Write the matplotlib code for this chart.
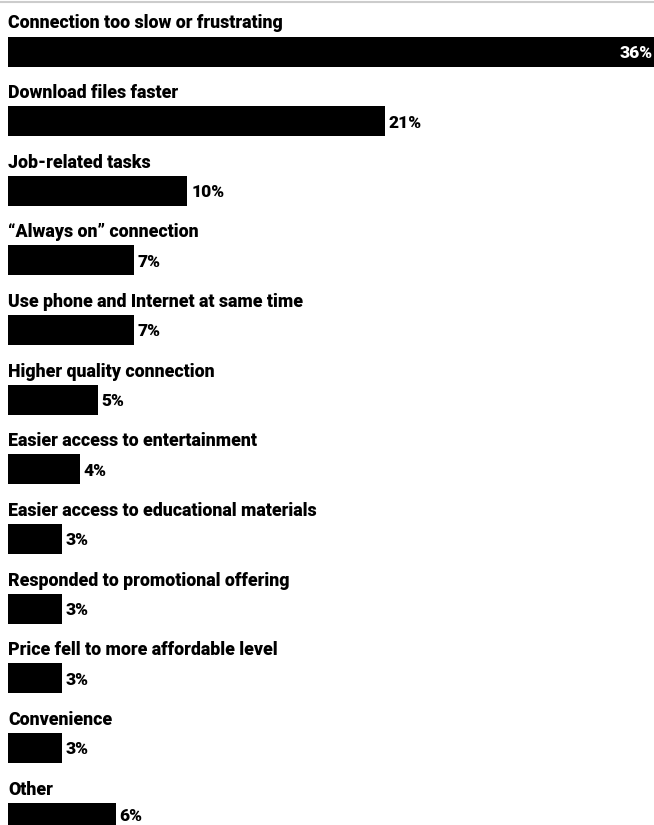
import matplotlib.pyplot as plt

categories = [
    'Connection too slow or frustrating',
    'Download files faster',
    'Job-related tasks',
    '\u201cAlways on\u201d connection',
    'Use phone and Internet at same time',
    'Higher quality connection',
    'Easier access to entertainment',
    'Easier access to educational materials',
    'Responded to promotional offering',
    'Price fell to more affordable level',
    'Convenience',
    'Other',
]
values = [36, 21, 10, 7, 7, 5, 4, 3, 3, 3, 3, 6]

plt.rcParams['font.family'] = ['Roboto', 'DejaVu Sans']

fig = plt.figure(figsize=(6.54, 8.25), dpi=100)
ax = fig.add_axes([0, 0, 1, 1])

pitch = 69.65  # px between bars
bar_h = 30 / pitch
ys = list(range(len(values)))

ax.barh(ys, values, height=bar_h, color='black', left=0)

for i, (cat, v) in enumerate(zip(categories, values)):
    ax.text(0, i - bar_h / 2 - 8 / pitch, cat, ha='left', va='baseline',
            fontsize=12.8, fontweight='heavy', color='black')
    # last label sits a touch higher so it is not clipped by the bottom edge
    dy = 0.02 if i < len(values) - 1 else -0.03
    if i == 0:
        ax.text(v - 0.07, i + dy, f'{v}%', ha='right', va='center',
                fontsize=12.5, fontweight='heavy', color='white')
    else:
        ax.text(v + 0.22, i + dy, f'{v}%', ha='left', va='center',
                fontsize=12.5, fontweight='heavy', color='black')

ax.set_xlim(-8 / 646 * 36, 36)
ax.set_ylim((825 - 51.5) / pitch, -51.5 / pitch)
ax.axis('off')

# thin grey rule at the top
fig.add_artist(plt.Line2D([0, 1], [1 - 2 / 825, 1 - 2 / 825], color='#cccccc', lw=1.5))

fig.savefig('out.png', dpi=100)
